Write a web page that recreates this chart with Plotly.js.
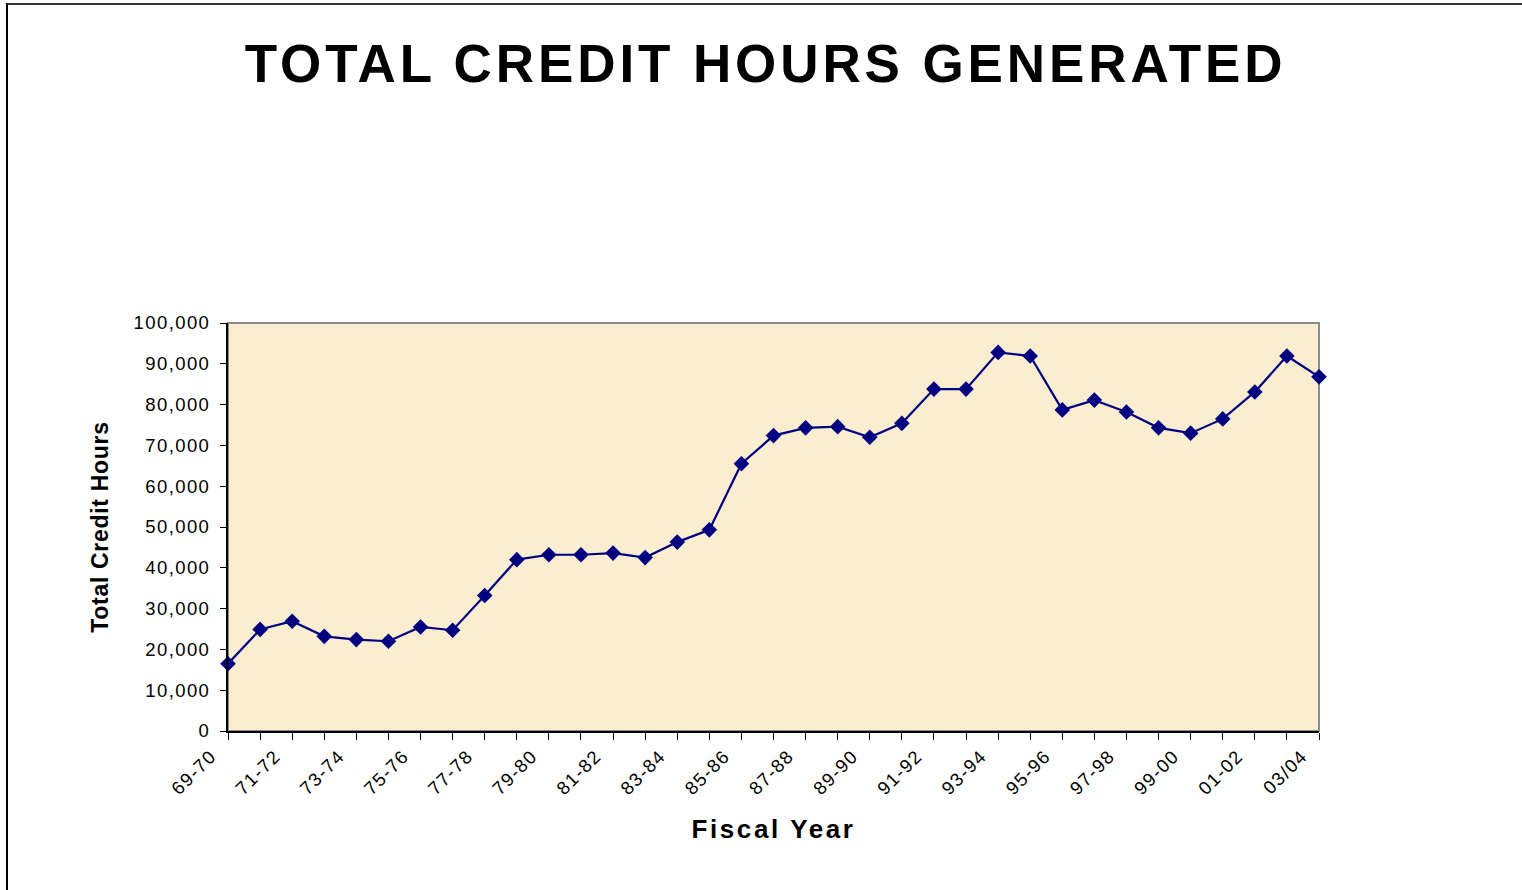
<!DOCTYPE html>
<html>
<head>
<meta charset="utf-8">
<script src="https://cdn.plot.ly/plotly-3.0.1.min.js"></script>
<style>
  html, body { margin: 0; padding: 0; background: #fff; overflow: hidden; }
  #chart { width: 1522px; height: 890px; position: absolute; left: 0; top: 0; }
  #frame { position: absolute; left: 6px; top: 3px; width: 1530px; height: 900px;
           border-top: 2px solid #333; border-left: 2px solid #000; pointer-events: none; }
  .gtitle { letter-spacing: 3.9px; }
  .xtitle { letter-spacing: 2.6px; }
  .ytitle { letter-spacing: 0.7px; }
  .xtick text, .ytick text { letter-spacing: 1.4px; }
</style>
</head>
<body>
<div id="chart"></div>
<div id="frame"></div>
<script>
const fiscalYears = ['69-70','70-71','71-72','72-73','73-74','74-75','75-76','76-77','77-78','78-79',
  '79-80','80-81','81-82','82-83','83-84','84-85','85-86','86-87','87-88','88-89',
  '89-90','90-91','91-92','92-93','93-94','94-95','95-96','96-97','97-98','98-99',
  '99-00','00-01','01-02','02-03','03/04'];
const creditHours = [16500, 24900, 26900, 23200, 22400, 22000, 25500, 24700, 33200, 42000,
  43200, 43200, 43600, 42500, 46300, 49300, 65500, 72400, 74300, 74600,
  72000, 75400, 83800, 83800, 92800, 91900, 78700, 81100, 78200, 74300,
  73000, 76500, 83100, 91900, 86800];
const yTickVals = [0, 10000, 20000, 30000, 40000, 50000, 60000, 70000, 80000, 90000, 100000];
const xTickText = fiscalYears.map((c, i) => (i % 2 === 0 ? c : ''));

const font = 'Liberation Sans, Arial, sans-serif';

const trace = {
  x: fiscalYears,
  y: creditHours,
  type: 'scatter',
  mode: 'lines+markers',
  line: { color: '#000080', width: 2.2 },
  marker: { symbol: 'diamond', color: '#000080', size: 12 },
  cliponaxis: false,
  hoverinfo: 'x+y'
};

const layout = {
  width: 1522, height: 890,
  margin: { l: 228, r: 203, t: 323, b: 159, pad: 0 },
  paper_bgcolor: '#ffffff',
  plot_bgcolor: '#fbedd0',
  showlegend: false,
  font: { family: font, color: '#000' },
  title: {
    text: 'TOTAL CREDIT HOURS GENERATED',
    font: { family: font, size: 53, color: '#000', weight: 'bold' },
    x: 0.4927, xanchor: 'center', xref: 'paper',
    y: 0.929, yanchor: 'middle', yref: 'container'
  },
  xaxis: {
    type: 'category',
    range: [0, fiscalYears.length - 1],
    tickmode: 'array',
    tickvals: fiscalYears,
    ticktext: xTickText,
    tickangle: -45,
    ticks: 'outside', ticklen: 7, tickwidth: 1, tickcolor: '#000',
    ticklabelstandoff: -2,
    ticklabelshift: -17,
    showline: true, linecolor: '#000', linewidth: 2,
    showgrid: false, zeroline: false,
    tickfont: { family: font, size: 18.5, color: '#000' },
    title: { text: 'Fiscal Year', font: { family: font, size: 26, color: '#000', weight: 'bold' }, standoff: 22 }
  },
  yaxis: {
    range: [0, 100000],
    tickmode: 'array',
    tickvals: yTickVals,
    tickformat: ',d',
    ticks: 'outside', ticklen: 6, tickwidth: 1, tickcolor: '#000',
    showline: true, linecolor: '#000', linewidth: 2,
    showgrid: false, zeroline: false,
    tickfont: { family: font, size: 18.5, color: '#000' },
    ticklabelstandoff: 6,
    title: { text: 'Total Credit Hours', font: { family: font, size: 23, color: '#000', weight: 'bold' }, standoff: 19 }
  },
  shapes: [{
    type: 'rect', xref: 'paper', yref: 'paper', x0: 0, x1: 1, y0: 0, y1: 1,
    line: { color: '#8c8c8c', width: 2 }, layer: 'below'
  }]
};

Plotly.newPlot('chart', [trace], layout, { displayModeBar: false, staticPlot: true });
</script>
</body>
</html>
